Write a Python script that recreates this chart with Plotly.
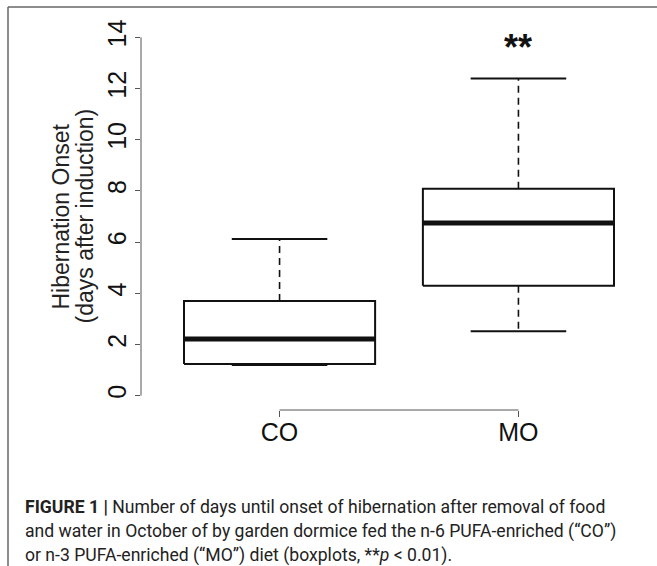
import plotly.graph_objects as go

# ---------------- data ----------------
GROUPS = ["CO", "MO"]
LOWER = [1.20, 2.52]
Q1 = [1.24, 4.29]
MEDIAN = [2.21, 6.75]
Q3 = [3.70, 8.08]
UPPER = [6.12, 12.39]
Y_TICKS = [0, 2, 4, 6, 8, 10, 12, 14]
SIGNIF = ["", "**"]
Y_TITLE = ["Hibernation Onset", "(days after induction)"]
CAPTION = [
    "<b>FIGURE 1 |</b> Number of days until onset of hibernation after removal of food",
    "and water in October of by garden dormice fed the n-6 PUFA-enriched (\u201cCO\u201d)",
    "or n-3 PUFA-enriched (\u201cMO\u201d) diet (boxplots, **<i>p</i> &lt; 0.01).",
]

# ---------------- layout constants ----------------
W, H = 657, 566
ML, MR, MT, MB = 141, 0, 23, 156
PW, PH = W - ML - MR, H - MT - MB
BOX_HALF = 0.4
CAP_HALF = 0.2
LINE_COL = "#111111"
AXIS_COL = "#555555"
FONT = "Liberation Sans, Arial, Helvetica, sans-serif"
CAP_FONT = "Roboto, Liberation Sans, Arial, sans-serif"


def px_x(px):
    return (px - ML) / PW


def px_y(py):
    return (H - MB - py) / PH


fig = go.Figure()

for i, g in enumerate(GROUPS):
    c = i + 1
    # box
    fig.add_trace(go.Scatter(
        x=[c - BOX_HALF, c + BOX_HALF, c + BOX_HALF, c - BOX_HALF, c - BOX_HALF],
        y=[Q1[i], Q1[i], Q3[i], Q3[i], Q1[i]],
        mode="lines", line=dict(color=LINE_COL, width=2), hoverinfo="skip",
        showlegend=False))
    # whiskers (dashed)
    fig.add_trace(go.Scatter(
        x=[c, c, None, c, c], y=[Q3[i], UPPER[i], None, Q1[i], LOWER[i]],
        mode="lines", line=dict(color=LINE_COL, width=1.6, dash="7px,5px"),
        hoverinfo="skip", showlegend=False))
    # staples
    fig.add_trace(go.Scatter(
        x=[c - CAP_HALF, c + CAP_HALF, None, c - CAP_HALF, c + CAP_HALF],
        y=[UPPER[i], UPPER[i], None, LOWER[i], LOWER[i]],
        mode="lines", line=dict(color=LINE_COL, width=2),
        hoverinfo="skip", showlegend=False))
    # median
    fig.add_trace(go.Scatter(
        x=[c - BOX_HALF, c + BOX_HALF], y=[MEDIAN[i], MEDIAN[i]],
        mode="lines", line=dict(color=LINE_COL, width=5),
        hoverinfo="skip", showlegend=False))

shapes = [
    # y axis line spanning the tick range
    dict(type="line", xref="paper", yref="y", x0=0, x1=0,
         y0=Y_TICKS[0], y1=Y_TICKS[-1], line=dict(color=AXIS_COL, width=1)),
    # x axis line spanning the groups
    dict(type="line", xref="x", yref="paper", x0=1, x1=len(GROUPS),
         y0=0, y1=0, line=dict(color=AXIS_COL, width=1)),
    # figure frame (top and left)
    dict(type="line", xref="paper", yref="paper", x0=px_x(8), x1=px_x(W + 2),
         y0=px_y(7), y1=px_y(7), line=dict(color="#666666", width=1.5)),
    dict(type="line", xref="paper", yref="paper", x0=px_x(8), x1=px_x(8),
         y0=px_y(7), y1=px_y(H + 2), line=dict(color="#666666", width=1.5)),
]

annotations = []
for i, s in enumerate(SIGNIF):
    if s:
        annotations.append(dict(
            x=i + 1, y=Y_TICKS[-1], xref="x", yref="y", text="<b>" + s + "</b>",
            showarrow=False, yanchor="top", yshift=12,
            font=dict(family=FONT, size=36, color="#111111")))

for j, t in enumerate(Y_TITLE):
    annotations.append(dict(
        x=0, y=0.5, xref="paper", yref="paper", text=t, textangle=-90,
        showarrow=False, xanchor="center", yanchor="middle",
        xshift=[60, 84][j] - ML,
        font=dict(family=FONT, size=23, color="#222222")))

for k, line in enumerate(CAPTION):
    annotations.append(dict(
        x=px_x(23), y=px_y(507 + 24 * k), xref="paper", yref="paper",
        text=line, showarrow=False, xanchor="left", yanchor="middle",
        align="left", font=dict(family=CAP_FONT, size=17.6, color="#222222")))

fig.update_layout(
    width=W, height=H,
    margin=dict(l=ML, r=MR, t=MT, b=MB, pad=0),
    paper_bgcolor="white", plot_bgcolor="white",
    showlegend=False,
    shapes=shapes, annotations=annotations,
    xaxis=dict(
        range=[0.42, 2.58], tickmode="array",
        tickvals=[i + 1 for i in range(len(GROUPS))], ticktext=GROUPS,
        ticks="outside", ticklen=6, tickwidth=1, tickcolor=AXIS_COL,
        ticklabelstandoff=-6,
        showline=False, showgrid=False, zeroline=False,
        tickfont=dict(family=FONT, size=25, color="#111111")),
    yaxis=dict(
        range=[-0.56, 14.56], tickmode="array", tickvals=Y_TICKS,
        ticks="outside", ticklen=5, tickwidth=1, tickcolor=AXIS_COL,
        tickangle=-90, ticklabelstandoff=-1,
        showline=False, showgrid=False, zeroline=False,
        tickfont=dict(family=FONT, size=25, color="#111111")),
)

fig.write_html("out.html")
